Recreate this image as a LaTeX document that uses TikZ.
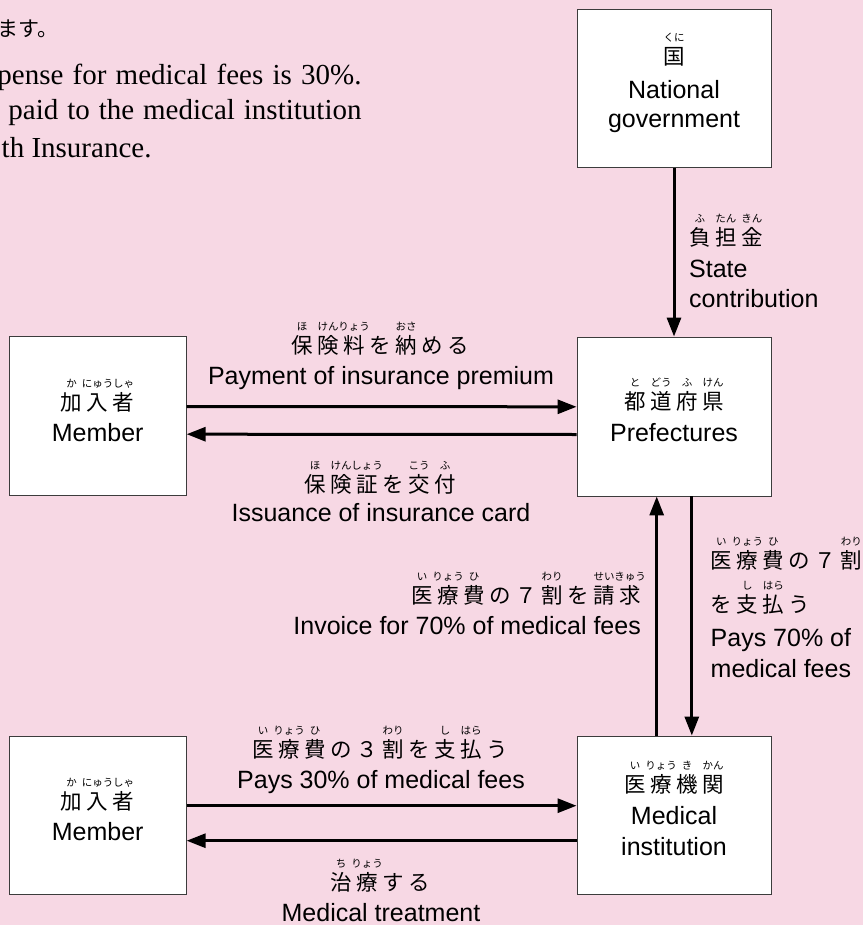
\documentclass[tikz,border=0pt]{standalone}
\usepackage{fontspec}
\setmainfont{Liberation Sans}
\newfontfamily\jpfont{Noto Sans CJK JP}
\newfontfamily\rubyfont{Noto Sans CJK JP}
\newfontfamily\serifnote{Liberation Serif}
\usetikzlibrary{arrows.meta}

% ruby over one character, and spaced-out Japanese
\newlength\jsp
\setlength\jsp{4.5pt}
\newcommand\rb[2]{\ooalign{#1\cr\hidewidth\raisebox{23pt}{\rubyfont\fontsize{10.5}{11}\selectfont #2}\hidewidth\cr}}
\makeatletter
\newcommand\jt[1]{\@tfor\jc:=#1\do{\jc\kern\jsp}\unkern}
\makeatother

\definecolor{bgpink}{RGB}{247,216,228}
\definecolor{boxline}{RGB}{60,60,60}

\tikzset{
  box/.style={draw=boxline, line width=0.9pt, fill=white, rectangle, inner sep=0pt},
  en/.style={font=\fontsize{25}{30}\selectfont, inner sep=0pt, anchor=base},
  jp/.style={font=\jpfont\fontsize{21.5}{26}\selectfont, inner sep=0pt, anchor=base},
  note/.style={font=\serifnote\fontsize{29}{34}\selectfont, inner sep=0pt},
  flow/.style={line width=3pt, -{Triangle[length=19pt,width=14pt]}},
}

\begin{document}
\begin{tikzpicture}[x=1pt,y=-1pt]

\def\rx{674}
\def\lx{97.7}

\path [use as bounding box, fill=bgpink] (0,0) rectangle (863,925);

% NOTE
\node [inner sep=0pt, anchor=base west, font=\rubyfont\fontsize{21}{21}\selectfont] (notejp) at (-3,37) {ます。};
\node [note, anchor=base east] (note1) at (361.7,85) {\makebox[364pt][s]{pense for medical fees is 30\%.}};
\node [note, anchor=base east] (note2) at (361.7,120) {\makebox[353pt][s]{paid to the medical institution}};
\node [note, anchor=base east] (note3) at (151.7,158) {th Insurance.};

% BOXES
\node [box, minimum width=194pt, minimum height=158pt] (gov) at (\rx,88.5) {};
\node [box, minimum width=194pt, minimum height=159pt] (pref) at (\rx,416.5) {};
\node [box, minimum width=194pt, minimum height=158pt] (med) at (\rx,815) {};
\node [box, minimum width=177pt, minimum height=159pt] (memA) at (\lx,416.2) {};
\node [box, minimum width=177pt, minimum height=158pt] (memB) at (\lx,815) {};

% ARROWS
\draw [flow] (gov.south) -- (pref.north);
\draw [flow] ([yshift=9.7pt]memA.east) -- ([yshift=9.7pt]pref.west);
\draw [flow] ([yshift=-18pt]pref.west) -- ([yshift=-18pt]memA.east);
\draw [flow] ([xshift=-17.3pt]med.north) -- ([xshift=-17.3pt]pref.south);
\draw [flow] ([xshift=17.8pt]pref.south) -- ([xshift=17.8pt]med.north);
\draw [flow] ([yshift=9.3pt]memB.east) -- ([yshift=9.3pt]med.west);
\draw [flow] ([yshift=-25.7pt]med.west) -- ([yshift=-25.7pt]memB.east);

% BOX TEXT
\node [jp] (govjp) at (\rx,65) {\rb{国}{くに}};
\node [en] (goven1) at (\rx,99) {National};
\node [en] (goven2) at (\rx,128) {government};

\node [jp] (prefjp) at (\rx,409) {\jt{{\rb{都}{と}}{\rb{道}{どう}}{\rb{府}{ふ}}{\rb{県}{けん}}}};
\node [en] (prefen) at (\rx,441) {Prefectures};

\node [jp] (medjp) at (\rx,792.5) {\jt{{\rb{医}{い}}{\rb{療}{りょう}}{\rb{機}{き}}{\rb{関}{かん}}}};
\node [en] (meden1) at (\rx,824) {Medical};
\node [en] (meden2) at (\rx,855) {institution};

\node [jp] (memAjp) at (\lx,410) {\jt{{\rb{加}{か}}{\rb{入}{にゅう}}{\rb{者}{しゃ}}}};
\node [en] (memAen) at (\lx,441) {Member};
\node [jp] (memBjp) at (\lx,809) {\jt{{\rb{加}{か}}{\rb{入}{にゅう}}{\rb{者}{しゃ}}}};
\node [en] (memBen) at (\lx,840) {Member};

% ARROW TEXT
\node [jp, anchor=base west] (statejp) at (689,245) {\jt{{\rb{負}{ふ}}{\rb{担}{たん}}{\rb{金}{きん}}}};
\node [en, anchor=base west] (stateen1) at (689,277.5) {State};
\node [en, anchor=base west] (stateen2) at (689,307) {contribution};

\node [jp] (premjp) at (380,353.5) {\jt{{\rb{保}{ほ}}{\rb{険}{けん}}{\rb{料}{りょう}}を{\rb{納}{おさ}}める}};
\node [en] (premen) at (381,384.5) {Payment of insurance premium};
\node [jp] (cardjp) at (380,492) {\jt{{\rb{保}{ほ}}{\rb{険}{けん}}{\rb{証}{しょう}}を{\rb{交}{こう}}{\rb{付}{ふ}}}};
\node [en] (carden) at (381,521.7) {Issuance of insurance card};

\node [jp, anchor=base east] (billjp) at (641,603.5) {\jt{{\rb{医}{い}}{\rb{療}{りょう}}{\rb{費}{ひ}}の７{\rb{割}{わり}}を{\rb{請}{せい}}{\rb{求}{きゅう}}}};
\node [en, anchor=base east] (billen) at (641,634.3) {Invoice for 70\% of medical fees};

\node [jp, anchor=base west] (payAjp1) at (710.5,568) {\jt{{\rb{医}{い}}{\rb{療}{りょう}}{\rb{費}{ひ}}の７{\rb{割}{わり}}}};
\node [jp, anchor=base west] (payAjp2) at (710.5,612) {\jt{を{\rb{支}{し}}{\rb{払}{はら}}う}};
\node [en, anchor=base west] (payAen1) at (710.5,646) {Pays 70\% of};
\node [en, anchor=base west] (payAen2) at (710.5,677) {medical fees};

\node [jp] (payBjp) at (380,757) {\jt{{\rb{医}{い}}{\rb{療}{りょう}}{\rb{費}{ひ}}の３{\rb{割}{わり}}を{\rb{支}{し}}{\rb{払}{はら}}う}};
\node [en] (payBen) at (381,788) {Pays 30\% of medical fees};
\node [jp] (treatjp) at (380,890) {\jt{{\rb{治}{ち}}{\rb{療}{りょう}}する}};
\node [en] (treaten) at (381,921) {Medical treatment};

\end{tikzpicture}
\end{document}
